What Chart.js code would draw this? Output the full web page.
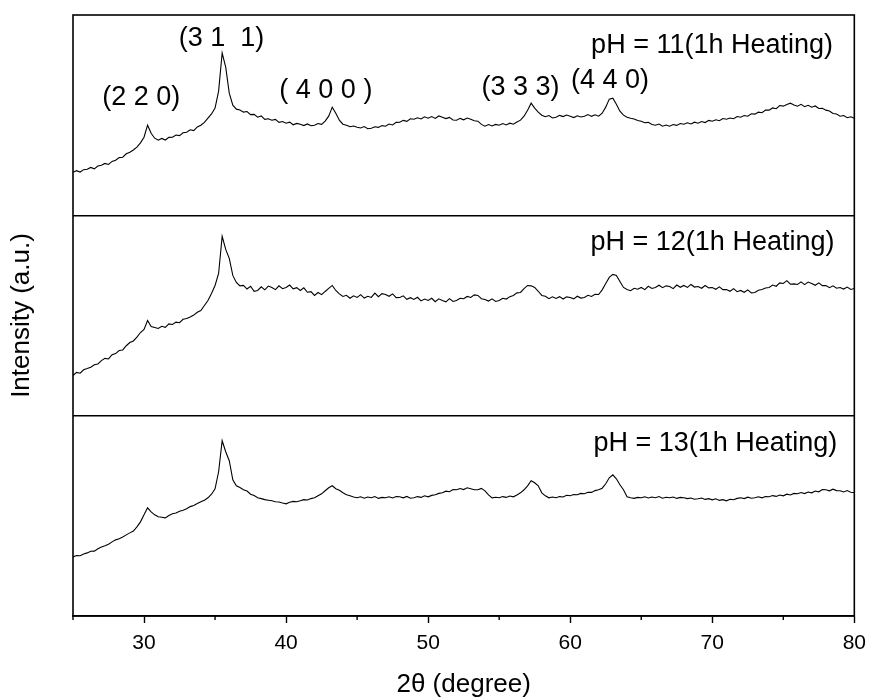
<!DOCTYPE html>
<html lang="en">
<head>
  <meta charset="UTF-8" />
  <title>XRD patterns - pH 11, 12, 13 (1h heating)</title>
  <script src="https://cdn.jsdelivr.net/npm/chart.js"></script>
  <style>
    body { margin: 0; background: #fff; }
    canvas { display: block; }
  </style>
</head>
<body>
  <canvas id="xrdChart" width="874" height="700"></canvas>

  <script>
    // scan grid: 2theta from 25 to 80 deg, 0.25 deg step
    const scanStart = 25;
    const scanStep = 0.25;

    // intensity (a.u.), as % of one panel height
    const ph11 = [
      21.5, 22.3, 21.6, 22.8,  23.0, 23.9, 23.2, 24.6,  25.0, 25.9, 25.4, 26.9,
      27.5, 28.8, 29.0, 30.7,  31.5, 32.6, 34.0, 36.2,  39.0, 45.0, 41.0, 38.5,
      37.5, 38.4, 37.6, 38.9,  39.0, 40.1, 39.8, 41.2,  41.5, 42.7, 42.3, 44.1,
      45.0, 46.4, 48.5, 50.6,  53.5, 62.0, 81.0, 74.0,  61.0, 55.0, 53.0, 52.6,
      51.5, 51.8, 50.3, 50.4,  49.0, 49.6, 47.9, 48.2,  47.5, 47.9, 46.4, 46.8,
      46.0, 46.5, 45.2, 45.9,  45.5, 44.8, 45.6, 44.7,  45.0, 45.8, 45.4, 47.0,
      49.5, 54.0, 51.0, 47.5,  45.5, 45.0, 44.2, 44.6,  44.0, 43.6, 44.3, 43.2,
      43.5, 44.2, 43.9, 44.8,  44.5, 45.6, 45.1, 46.4,  46.5, 47.4, 46.9, 48.2,
      48.0, 48.7, 48.1, 49.2,  48.5, 49.3, 48.4, 49.6,  49.0, 48.3, 48.9, 47.6,
      47.5, 48.4, 47.7, 48.6,  48.0, 47.2, 47.0, 45.4,  44.5, 45.3, 44.6, 45.4,
      45.0, 45.8, 45.1, 46.0,  45.5, 46.6, 47.5, 49.5,  52.5, 56.0, 53.5, 51.5,
      50.0, 49.2, 49.8, 48.6,  49.0, 49.9, 49.3, 50.1,  49.5, 48.8, 49.7, 49.1,
      49.5, 50.3, 49.4, 50.2,  49.5, 51.0, 54.0, 58.0,  58.5, 55.5, 52.0, 50.0,
      49.0, 48.5, 48.1, 47.3,  47.0, 46.2, 46.4, 45.3,  45.0, 45.6, 44.5, 45.1,
      44.5, 45.3, 44.9, 45.8,  45.5, 46.2, 45.6, 46.5,  46.0, 46.8, 46.3, 47.4,
      47.0, 47.7, 47.2, 48.3,  48.0, 48.6, 48.2, 49.3,  49.0, 49.8, 49.5, 50.7,
      50.5, 51.5, 51.2, 52.6,  52.5, 53.6, 53.2, 54.8,  54.5, 55.3, 56.0, 55.1,
      54.5, 55.4, 54.2, 54.9,  54.0, 54.6, 53.3, 53.4,  52.5, 52.1, 50.8, 50.6,
      49.5, 49.8, 48.7, 49.2,  48.5
    ];

    const ph12 = [
      20.0, 21.6, 21.2, 22.9,  23.5, 24.2, 25.4, 25.8,  27.5, 28.6, 28.3, 30.4,
      31.0, 32.5, 32.8, 34.9,  36.5, 37.3, 39.2, 41.5,  43.0, 47.5, 44.5, 44.0,
      43.5, 44.6, 44.1, 45.8,  45.5, 46.7, 46.4, 48.1,  48.5, 49.3, 50.2, 51.6,
      52.5, 55.0, 57.5, 61.0,  65.0, 71.0, 89.5, 83.0,  78.5, 70.0, 66.5, 64.8,
      65.0, 63.2, 64.6, 62.1,  62.5, 64.3, 62.8, 64.7,  64.0, 62.9, 64.8, 63.4,
      64.0, 65.2, 63.3, 63.9,  62.5, 63.8, 61.6, 61.9,  60.0, 61.5, 60.4, 62.0,
      63.5, 65.0, 62.5, 60.8,  59.5, 60.1, 58.6, 59.8,  59.0, 60.4, 58.7, 59.6,
      59.0, 61.2, 59.4, 60.9,  60.5, 59.6, 60.8, 58.9,  59.0, 59.8, 58.1, 58.9,
      58.0, 59.1, 57.3, 58.2,  57.5, 58.6, 56.9, 58.3,  57.5, 56.8, 58.4, 57.0,
      57.5, 58.6, 58.4, 59.5,  59.0, 60.3, 60.0, 58.4,  58.0, 57.2, 58.3, 57.0,
      57.5, 58.6, 58.2, 59.4,  60.0, 61.3, 61.5, 63.4,  65.0, 64.8, 64.0, 62.1,
      60.0, 59.6, 58.4, 59.3,  58.5, 59.4, 58.2, 59.3,  59.0, 58.3, 59.6, 58.7,
      59.0, 60.1, 59.5, 60.6,  60.5, 62.8, 66.0, 69.0,  70.5, 70.0, 67.0, 64.0,
      63.0, 62.4, 63.6, 63.1,  64.0, 62.9, 64.6, 63.5,  64.0, 65.1, 63.9, 64.8,
      64.5, 63.4, 65.2, 64.1,  65.0, 64.0, 65.5, 64.2,  64.5, 63.6, 65.0, 63.8,
      64.0, 63.1, 64.3, 62.9,  63.0, 62.1, 63.4, 61.9,  62.5, 61.6, 62.8, 61.3,
      61.5, 62.6, 63.0, 63.7,  64.0, 65.2, 64.6, 66.3,  66.0, 67.4, 65.6, 65.8,
      65.5, 66.8, 65.4, 66.7,  66.0, 65.1, 66.3, 64.9,  65.0, 63.9, 64.8, 63.6,
      64.0, 63.2, 64.2, 63.0,  63.5
    ];

    const ph13 = [
      29.5, 30.2, 30.1, 31.0,  31.5, 32.3, 32.4, 33.6,  34.5, 35.1, 35.8, 37.0,
      38.0, 38.6, 39.4, 40.5,  41.5, 42.4, 44.5, 47.0,  50.5, 54.0, 52.0, 50.5,
      49.5, 49.3, 49.0, 50.2,  51.0, 51.4, 52.3, 52.8,  53.5, 54.6, 55.2, 56.1,
      57.0, 57.8, 59.0, 60.8,  63.5, 72.0, 87.5, 82.0,  77.5, 68.0, 65.0, 64.1,
      63.0, 62.4, 60.8, 60.1,  59.0, 58.6, 58.1, 57.8,  57.5, 57.0, 56.9, 56.4,
      56.0, 56.8, 57.2, 57.0,  57.5, 58.1, 57.9, 58.6,  59.0, 60.0, 61.0, 62.5,
      64.0, 65.0, 63.5, 62.8,  61.5, 60.5, 60.0, 59.4,  59.0, 59.5, 58.8, 59.4,
      59.0, 59.6, 58.7, 59.2,  59.0, 59.5, 58.9, 59.6,  59.5, 59.0, 59.7, 58.8,
      59.0, 59.6, 59.2, 60.0,  59.5, 60.2, 60.5, 61.2,  61.5, 62.3, 62.0, 63.1,
      63.0, 63.6, 63.1, 64.0,  63.5, 63.0, 63.0, 63.7,  62.5, 60.5, 59.0, 59.3,
      59.0, 59.6, 59.2, 59.9,  59.5, 60.4, 61.5, 63.0,  65.0, 67.5, 66.5, 65.0,
      61.5, 60.0, 59.0, 59.4,  59.0, 59.6, 59.4, 60.3,  60.0, 60.6, 60.5, 61.2,
      61.0, 61.8, 61.7, 62.6,  63.0, 63.8, 66.0, 69.0,  70.5, 68.5, 65.5, 63.0,
      59.5, 59.0, 58.7, 59.2,  59.0, 59.5, 58.9, 59.4,  59.0, 59.6, 58.8, 59.3,
      59.0, 59.4, 58.7, 59.2,  59.0, 58.6, 58.9, 58.3,  58.5, 58.9, 58.2, 58.6,
      58.0, 58.5, 57.7, 58.1,  57.5, 58.3, 58.0, 58.7,  59.0, 58.6, 59.3, 58.8,
      59.0, 59.5, 59.0, 59.6,  59.5, 60.1, 59.7, 60.4,  60.0, 60.8, 60.4, 61.2,
      61.0, 61.6, 61.1, 61.9,  61.5, 62.4, 62.0, 63.1,  63.0, 62.5, 63.3, 62.6,
      62.5, 61.9, 62.6, 61.8,  61.5
    ];

    // panels stacked from top: pH 11, pH 12, pH 13
    const seriesValues = [ph11, ph12, ph13];
    const panelOffsets = [200, 100, 0];
    const panelLabels = ['pH = 11(1h Heating)', 'pH = 12(1h Heating)', 'pH = 13(1h Heating)'];
    const panelLabelPos = [[78.5, 285], [78.6, 186.5], [78.8, 86]];

    // Miller indices over the top pattern
    const peakLabels = ['(2 2 0)', '(3 1  1)', '( 4 0 0 )', '(3 3 3)', '(4 4 0)'];
    const peakLabelPos = [[29.8, 259], [35.45, 288], [42.8, 262.5], [56.5, 264], [62.8, 267.5]];

    const xTicks = [30, 40, 50, 60, 70, 80];
    const xMinorTicks = [25, 35, 45, 55, 65, 75];

    const fontFamily = '"Liberation Sans", Arial, sans-serif';

    const datasets = seriesValues.map((vals, i) => ({
      label: panelLabels[i],
      data: vals.map((v, k) => ({ x: scanStart + k * scanStep, y: v + panelOffsets[i] })),
      borderColor: '#000',
      borderWidth: 1.1,
      pointRadius: 0,
      tension: 0,
      fill: false
    }));

    // frame, short minor ticks and text labels
    const decorPlugin = {
      id: 'decor',
      afterDatasetsDraw(chart) {
        const { ctx, chartArea: a, scales: { x, y } } = chart;
        ctx.save();
        ctx.strokeStyle = '#000';
        ctx.lineWidth = 1.6;
        ctx.strokeRect(a.left, a.top, a.right - a.left, a.bottom - a.top);

        ctx.lineWidth = 1.4;
        ctx.beginPath();
        xMinorTicks.forEach(v => {
          const px = x.getPixelForValue(v);
          ctx.moveTo(px, a.bottom);
          ctx.lineTo(px, a.bottom + 4);
        });
        ctx.stroke();

        ctx.fillStyle = '#000';
        ctx.font = '27px ' + fontFamily;
        ctx.textBaseline = 'middle';
        ctx.textAlign = 'center';
        peakLabels.forEach((t, i) => {
          ctx.fillText(t, x.getPixelForValue(peakLabelPos[i][0]), y.getPixelForValue(peakLabelPos[i][1]));
        });
        ctx.textAlign = 'right';
        panelLabels.forEach((t, i) => {
          ctx.fillText(t, x.getPixelForValue(panelLabelPos[i][0]), y.getPixelForValue(panelLabelPos[i][1]));
        });
        ctx.restore();
      }
    };

    const ctx = document.getElementById('xrdChart').getContext('2d');
    new Chart(ctx, {
      type: 'line',
      data: { datasets },
      options: {
        responsive: false,
        animation: false,
        layout: { padding: { top: 15, right: 16, bottom: 0, left: 0 } },
        plugins: { legend: { display: false }, tooltip: { enabled: false } },
        scales: {
          x: {
            type: 'linear',
            min: 25,
            max: 80,
            afterFit: s => { s.height = 84; },
            afterBuildTicks: s => {
              s.ticks = xTicks.map(v => ({ value: v }));
            },
            ticks: {
              color: '#000',
              padding: 8,
              maxRotation: 0,
              autoSkip: false,
              font: { family: fontFamily, size: 21 }
            },
            grid: {
              drawOnChartArea: false,
              drawTicks: true,
              tickLength: 7,
              color: '#000',
              tickWidth: 1.4
            },
            border: { display: true, color: '#000', width: 1.6 },
            title: {
              display: true,
              text: '2θ (degree)',
              color: '#000',
              font: { family: fontFamily, size: 26 },
              padding: { top: 0, bottom: 0 }
            }
          },
          y: {
            min: 0,
            max: 300,
            afterFit: s => { s.width = 73; },
            ticks: { display: false, stepSize: 100 },
            grid: {
              drawTicks: false,
              color: c => (c.tick && (c.tick.value === 100 || c.tick.value === 200) ? '#000' : 'rgba(0,0,0,0)'),
              lineWidth: 1.6
            },
            border: { display: false },
            title: {
              display: true,
              text: 'Intensity (a.u.)',
              color: '#000',
              font: { family: fontFamily, size: 26 },
              padding: { top: 6, bottom: 0 }
            }
          }
        }
      },
      plugins: [decorPlugin]
    });
  </script>
</body>
</html>
